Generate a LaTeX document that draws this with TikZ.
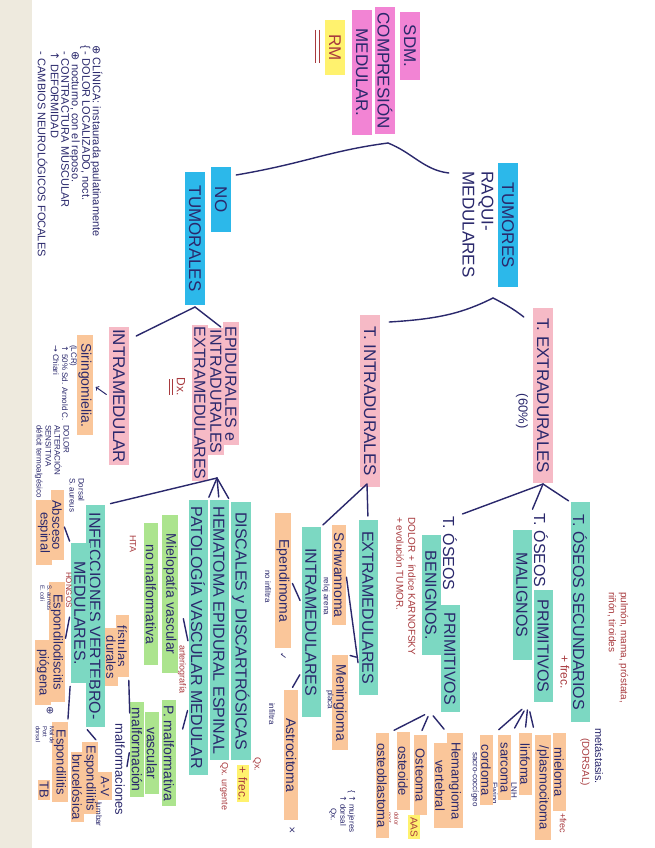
\documentclass[tikz,border=0pt]{standalone}
\usepackage{fontspec}
\setmainfont{Liberation Sans}
\newfontfamily\symf{DejaVu Sans}
\usepackage{tikz}

\definecolor{ink}{RGB}{42,40,108}
\definecolor{redink}{RGB}{168,58,62}
\definecolor{magentahl}{RGB}{242,132,212}
\definecolor{pinkhl}{RGB}{246,186,198}
\definecolor{bluehl}{RGB}{44,184,234}
\definecolor{minthl}{RGB}{124,216,194}
\definecolor{limehl}{RGB}{172,228,142}
\definecolor{orangehl}{RGB}{250,198,154}
\definecolor{yellowhl}{RGB}{255,242,110}
\definecolor{paper}{RGB}{238,234,222}

\begin{document}
\begin{tikzpicture}[x=1pt, y=-1pt,
    lbl/.style = {rotate=-90, anchor=west, inner sep=1.5pt, text=ink},
    big/.style = {lbl, font=\fontsize{17}{19}\selectfont, minimum height=20pt},
    mid/.style = {lbl, font=\fontsize{16}{18}\selectfont, minimum height=19pt},
    low/.style = {lbl, font=\fontsize{14}{15}\selectfont, minimum height=14pt},
    note/.style = {lbl, font=\fontsize{8}{9}\selectfont, inner sep=0pt},
    rnote/.style = {note, text=redink},
    magbox/.style = {big, fill=magentahl},
    pinkbox/.style = {big, fill=pinkhl},
    bluebox/.style = {big, fill=bluehl},
    mintbox/.style = {mid, fill=minthl},
    limebox/.style = {low, fill=limehl},
    orbox/.style = {low, fill=orangehl},
    smallor/.style = {orbox, font=\fontsize{13}{14}\selectfont, minimum height=13pt},
    link/.style = {draw=ink, line width=1.4pt, line cap=round},
    twig/.style = {link, shorten <=#1, shorten >=#1},
    twig/.default = 3pt
  ]
  % paper
  \fill[white] (0,0) rectangle (655,848);
  \fill[paper] (0,0) rectangle (32,848);
  \useasboundingbox (0,0) rectangle (655,848);

  % root
  \node[magbox, minimum width=68pt] (sdm) at (410,12) {SDM.};
  \node[magbox, minimum width=127pt] (compresion) at (385,7) {COMPRESIÓN};
  \node[magbox, minimum width=125pt] (medular) at (362,10) {MEDULAR.};
  \node[big, fill=yellowhl, text=redink, minimum width=55pt] (rm) at (335,20) {RM};
  \draw[redink, line width=1pt] ([xshift=-5pt,yshift=-10pt]rm.south west) -- ([xshift=-5pt,yshift=12pt]rm.south east);
  \draw[redink, line width=1pt] ([xshift=-9pt,yshift=-10pt]rm.south west) -- ([xshift=-9pt,yshift=12pt]rm.south east);

  % first level
  \node[bluebox, minimum width=65pt] (no) at (221,167) {NO};
  \node[bluebox, minimum width=133pt] (tumorales) at (195,172) {TUMORALES};
  \node[bluebox, minimum width=124pt] (tumores) at (508,163) {TUMORES};
  \node[big, align=left] (raqui) at (478,170) {RAQUI-\\MEDULARES};

  \coordinate (rootfork) at (388,143);
  \draw[link] (rootfork) .. controls +(-60,8) and +(70,-12) .. ([xshift=5pt,yshift=-8pt]no.north west);
  \draw[link] (rootfork) .. controls +(25,10) and +(-25,-3) .. ([xshift=-12pt,yshift=-3pt]raqui.south west);

  % tumores
  \node[pinkbox, minimum width=172pt] (tintra) at (370,315) {T. INTRADURALES};
  \node[pinkbox, minimum width=175pt] (textra) at (543,308) {T. EXTRADURALES};
  \node[lbl, font=\fontsize{13}{14}\selectfont] (sixty) at (522,392) {(60\%)};

  \coordinate (tumfork) at (493,298);
  \draw[link] (tumfork) .. controls +(-30,15) and +(50,-3) .. ([xshift=9pt,yshift=-7pt]tintra.north west);
  \draw[link] (tumfork) .. controls +(10,5) and +(-10,-8) .. ([xshift=-9pt,yshift=-9pt]textra.south west);

  % no tumorales
  \node[pinkbox, minimum width=138pt] (intramed) at (119,327) {INTRAMEDULAR};
  \node[pinkbox, font=\fontsize{16}{18}\selectfont, minimum height=16pt, minimum width=123pt] (epid) at (231,322) {EPIDURALES e};
  \node[pinkbox, font=\fontsize{16}{18}\selectfont, minimum height=16pt, minimum width=127pt] (intrad) at (216,328) {INTRADURALES};
  \node[pinkbox, font=\fontsize{16}{18}\selectfont, minimum height=16pt, minimum width=150pt] (extram) at (200,325) {EXTRAMEDULARES};
  \node[lbl, text=redink, font=\fontsize{12}{13}\selectfont] (dxa) at (181,376) {Dx.};
  \draw[redink, line width=1pt] ([xshift=-3pt,yshift=-3pt]dxa.south west) -- ([xshift=-3pt,yshift=2pt]dxa.south east);
  \draw[redink, line width=1pt] ([xshift=-6pt,yshift=-3pt]dxa.south west) -- ([xshift=-6pt,yshift=2pt]dxa.south east);

  \coordinate (nofork) at (195,307);
  \draw[link] (nofork) -- ([xshift=7pt,yshift=-9pt]intramed.north west);
  \draw[link] (nofork) -- ([xshift=-2pt,yshift=-5pt]epid.south west);

  \node[orbox, minimum width=100pt] (siring) at (85,335) {Siringomielia.};
  \draw[link, line width=1pt, ->, shorten <=3pt, shorten >=3pt] (intramed.south) -- (siring.north);
  \node[note, align=left] (sirnote) at (65,345) {(LCR)\\{\symf ↑} 50\% Sd. Arnold C.\\{\symf →} Chiari};
  \node[note, align=left] (dolornote) at (52,425) {DOLOR\\ALTERACIÓN\\SENSITIVA\\déficit termoalgésico};

  % clinica
  \node[note, font=\fontsize{11}{10.5}\selectfont, align=left] (clinica) at (69,45)
    {{\symf ⊕} CLÍNICA: instaurada paulatinamente\\
     \{ - DOLOR LOCALIZADO, noct.\\
     \phantom{\{} {\symf ⊕} nocturno, con el reposo.\\
     \phantom{\{} - CONTRACTURA MUSCULAR\\
     \phantom{\{} {\symf ↑} DEFORMIDAD\\
     \phantom{\{} - CAMBIOS NEUROLÓGICOS FOCALES};

  % T. extradurales
  \node[mintbox, minimum width=220pt] (tosec) at (580,502) {T. ÓSEOS SECUNDARIOS};
  \node[rnote, font=\fontsize{12}{13}\selectfont] (secfrec) at (565,655) {+ frec.};
  \node[rnote, font=\fontsize{10}{12}\selectfont, align=left] (metnote) at (618,592) {pulmón, mama, próstata,\\riñón, tiroides};
  \node[note, font=\fontsize{11}{12}\selectfont] (metast) at (599,728) {metástasis.};
  \node[rnote, font=\fontsize{10}{11}\selectfont] (dorsalnote) at (585,738) {(DORSAL)};

  \node[mid] (malA) at (541,512) {T. ÓSEOS};
  \node[mintbox, minimum width=112pt] (malB) at (543,590) {PRIMITIVOS};
  \node[mintbox, minimum width=130pt] (malC) at (522,530) {MALIGNOS};
  \node[mid] (benA) at (450,515) {T. ÓSEOS};
  \node[mintbox, minimum width=107pt] (benB) at (450,605) {PRIMITIVOS};
  \node[mintbox, minimum width=120pt] (benC) at (431,535) {BENIGNOS.};
  \node[rnote, font=\fontsize{10}{12}\selectfont, align=left] (bennote) at (406,517) {DOLOR + índice KARNOFSKY\\+ evolución TUMOR.};

  \coordinate (extrafork) at (543,484);
  \draw[link, shorten >=3pt] (extrafork) -- (benA.north west);
  \draw[link, shorten >=3pt] (extrafork) -- (malA.south west);
  \draw[link, shorten >=2pt] (extrafork) -- (tosec.south west);

  % malignos
  \node[smallor, minimum width=78pt] (mieloma) at (559,733) {mieloma};
  \node[rnote, font=\fontsize{9}{10}\selectfont] (mielfrec) at (563,813) {+frec};
  \node[smallor, minimum width=105pt] (plasmo) at (543,735) {/plasmocitoma};
  \node[smallor, minimum width=62pt] (linfoma) at (525,733) {linfoma};
  \node[note] (linfnote) at (514,782) {LNH};
  \node[smallor, minimum width=65pt] (sarcoma) at (504,735) {sarcoma};
  \node[note] (sarcnote) at (494,782) {Ewing};
  \node[smallor, minimum width=70pt] (cordoma) at (486,735) {cordoma};
  \node[note] (cordnote) at (475,752) {sacro-coccígeo};

  \coordinate (malfork) at (528,704);
  \draw[twig=8pt] (malfork) -- (cordoma.north west);
  \draw[twig=8pt] (malfork) -- (sarcoma.north west);
  \draw[twig=6pt] (malfork) -- (linfoma.west);
  \draw[twig=8pt] (malfork) -- (plasmo.south west);

  % benignos
  \node[smallor, minimum width=95pt] (hemang) at (455,733) {Hemangioma};
  \node[smallor, minimum width=85pt] (vertebral) at (440,743) {vertebral};
  \node[smallor, minimum width=80pt] (osteoma) at (420,735) {Osteoma};
  \node[smallor, minimum width=78pt] (osteoide) at (403,732) {osteoide};
  \node[lbl, fill=yellowhl, text=redink, font=\fontsize{10}{11}\selectfont, inner sep=2pt] (aas) at (414,815) {AAS};
  \node[rnote, font=\fontsize{6}{7}\selectfont, align=left] (aasnote) at (393,812) {dolor\\noct.};
  \node[smallor, minimum width=105pt] (osteobl) at (382,733) {osteoblastoma};

  \coordinate (benfork) at (430,712);
  \draw[twig=6pt] (benfork) -- (osteobl.north west);
  \draw[twig=5pt] (benfork) -- (osteoma.west);
  \draw[twig=5pt] (benfork) -- (hemang.south west);

  % T. intradurales
  \node[mintbox, minimum width=175pt] (extram2) at (368,520) {EXTRAMEDULARES};
  \node[mintbox, minimum width=190pt] (intram2) at (311,527) {INTRAMEDULARES};
  \coordinate (intrafork) at (367,484);
  \draw[link, shorten >=4pt] (intrafork) -- (extram2.west);
  \draw[link, shorten >=3pt] (intrafork) -- (intram2.north west);

  \node[orbox, minimum width=100pt] (schwan) at (339,525) {Schwannoma};
  \node[note] (schwnote) at (326,577) {reloj arena};
  \node[orbox, minimum width=95pt] (mening) at (340,655) {Meningioma};
  \node[note] (meningnote) at (330,690) {placa};
  \node[note, align=left] (mujnote) at (347,790) {\{ {\symf ↑} mujeres\\\phantom{\{} {\symf ↑} dorsal};
  \node[note] (qxnote) at (333,808) {Qx.};
  \draw[twig=2pt] ([yshift=-57pt]extram2.south) -- (schwan.north);
  \draw[twig=2pt] ([yshift=-50pt]extram2.south) -- (mening.north west);

  \node[orbox, minimum width=135pt] (ependim) at (283,513) {Ependimoma};
  \node[note, font=\symf\fontsize{9}{10}\selectfont] (ependok) at (283,652) {✓};
  \node[note] (ependnote) at (268,570) {no infiltra};
  \node[orbox, minimum width=130pt] (astro) at (291,690) {Astrocitoma};
  \node[note, font=\symf\fontsize{9}{10}\selectfont] (astrox) at (292,826) {×};
  \node[note] (astronote) at (272,703) {infiltra};
  \draw[twig=3pt] ([yshift=19pt]intram2.south) -- (ependim.north);
  \draw[twig=3pt] ([yshift=-50pt]intram2.south) -- (astro.west);

  % epidurales e intradurales extramedulares
  \node[mintbox, minimum width=258pt] (discales) at (241,502) {DISCALES y DISCARTRÓSICAS};
  \node[mintbox, minimum width=260pt] (hematoma) at (219,500) {HEMATOMA EPIDURAL ESPINAL};
  \node[mintbox, minimum width=275pt] (patvasc) at (198,500) {PATOLOGÍA VASCULAR MEDULAR};
  \node[lbl, fill=yellowhl, text=redink, font=\fontsize{12}{13}\selectfont] (discfrec) at (243,765) {+ frec.};
  \node[rnote, font=\fontsize{9}{10}\selectfont] (discqx) at (257,757) {Qx.};
  \node[rnote, font=\fontsize{9}{10}\selectfont] (hemqx) at (224,762) {Qx. urgente};
  \node[rnote, font=\fontsize{9}{10}\selectfont] (arterio) at (182,645) {arteriografía};

  \node[limebox, minimum width=158pt] (mielopA) at (170,515) {Mielopatía vascular};
  \node[limebox, minimum width=142pt] (mielopB) at (151,523) {no malformativa};
  \node[rnote, font=\fontsize{9}{10}\selectfont] (hta) at (133,535) {HTA};
  \node[limebox, minimum width=106pt] (pmalfA) at (169,700) {P. malformativa};
  \node[limebox, minimum width=82pt] (pmalfB) at (152,712) {vascular};
  \node[limebox, minimum width=95pt] (pmalfC) at (137,702) {malformación};
  \draw[link, shorten <=2pt, shorten >=25pt] ([yshift=-5pt]patvasc.south) -- (mielopA.north);
  \draw[link, shorten <=3pt, shorten >=25pt] ([yshift=-70pt]patvasc.south) -- (pmalfA.north);

  \node[smallor, minimum width=62pt] (fistA) at (122,615) {fístulas};
  \node[smallor, minimum width=58pt] (fistB) at (111,628) {durales};
  \node[lbl, font=\fontsize{13}{14}\selectfont] (malfav) at (120,722) {malformaciones};
  \node[orbox, font=\fontsize{12}{13}\selectfont, minimum width=28pt] (av) at (105,772) {A-V};
  \draw[twig=3pt] ([yshift=-14pt]pmalfC.south west) -- (fistA.north east);
  \draw[twig=3pt] (pmalfC.south) -- (malfav.north);

  % infecciones
  \node[mintbox, minimum width=222pt] (infecc) at (95,505) {INFECCIONES VERTEBRO-};
  \node[mintbox, minimum width=140pt] (infeccB) at (80,543) {MEDULARES.};
  \node[rnote] (hongos) at (69,572) {HONGOS};

  \coordinate (epifork) at (217,478);
  \draw[link, shorten >=4pt] (epifork) -- (discales.south west);
  \draw[link, shorten >=3pt] (epifork) -- (hematoma.west);
  \draw[link, shorten >=3pt] (epifork) -- (patvasc.north west);
  \draw[link, shorten >=6pt] (epifork) -- (infecc.north west);

  \node[smallor, minimum width=70pt] (absA) at (57,490) {Absceso};
  \node[smallor, minimum width=65pt] (absB) at (44,500) {espinal};
  \node[note, align=left] (absnote) at (77,478) {Dorsal\\S. aureus};
  \node[smallor, minimum width=120pt] (espdA) at (57,582) {Espondilodiscitis};
  \node[note, font=\fontsize{6}{7}\selectfont, align=left] (espdnote) at (46,585) {S. aureus\\E. coli};
  \node[smallor, minimum width=65pt] (espdB) at (43,640) {piógena};
  \node[note, font=\symf\fontsize{10}{11}\selectfont] (pioplus) at (50,706) {⊕};
  \node[smallor, minimum width=80pt] (tbA) at (60,722) {Espondilitis};
  \node[lbl, fill=orangehl, font=\fontsize{13}{14}\selectfont] (tbB) at (44,780) {TB};
  \node[note, font=\fontsize{6}{7}\selectfont, align=left] (tbnote) at (45,726) {Mal de\\Pott\\dorsal};
  \node[smallor, minimum width=72pt] (brucA) at (90,742) {Espondilitis};
  \node[smallor, minimum width=70pt] (brucB) at (77,752) {brucelósica};
  \node[note] (lumbnote) at (99,802) {lumbar};

  \draw[twig=2pt] (infeccB.south west) -- (absA.north);
  \draw[twig=4pt] (infeccB.south) -- (espdA.north);
  \draw[twig=3pt] (infeccB.south east) -- (tbA.north west);
  \draw[twig=3pt] (infecc.south east) -- (brucA.north west);
\end{tikzpicture}
\end{document}
